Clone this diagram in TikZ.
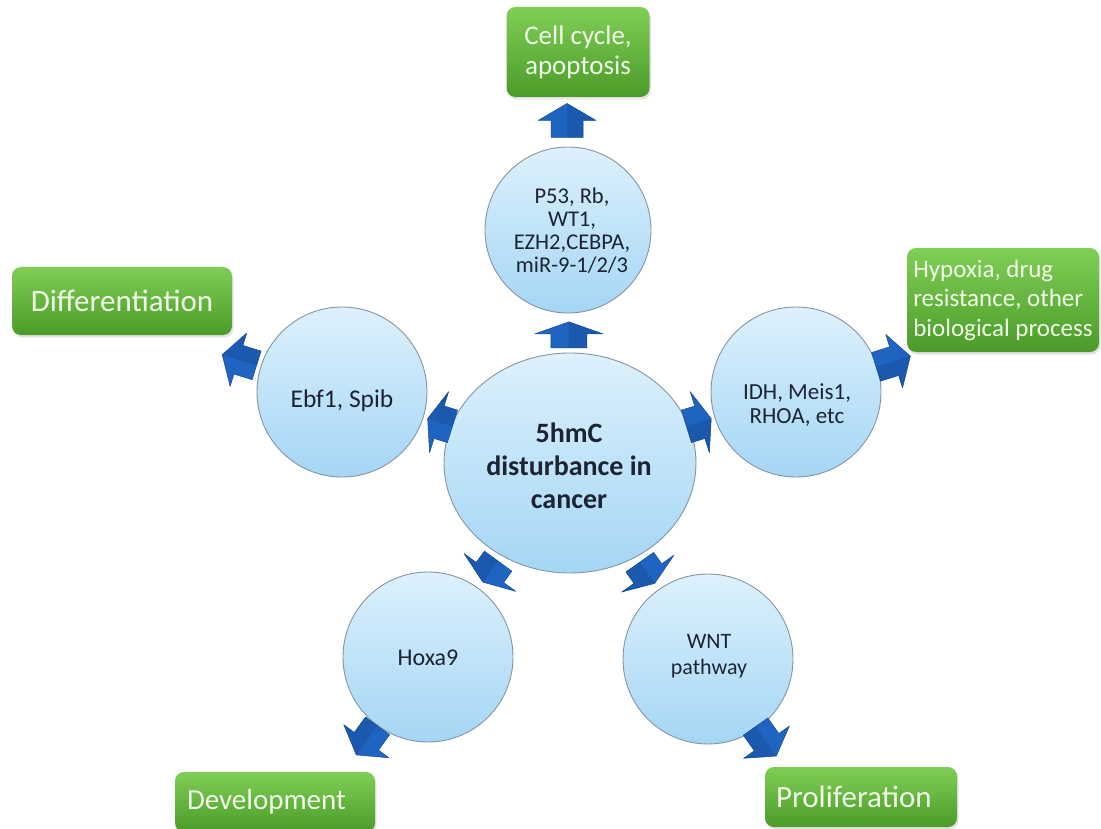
\documentclass[tikz,border=0pt]{standalone}
\usepackage{fontspec}
\setmainfont{Carlito}
\usetikzlibrary{shapes.geometric,shadows,calc}
\definecolor{cirtop}{HTML}{DDF1FC}
\definecolor{cirbot}{HTML}{A4D6F5}
\definecolor{cirline}{HTML}{8494A3}
\definecolor{arrblue}{HTML}{1F64C0}
\definecolor{arrdark}{HTML}{164C96}
\definecolor{grtop}{HTML}{80CE56}
\definecolor{grbot}{HTML}{4B9B2A}
\definecolor{grtext}{HTML}{F0FBE8}
\definecolor{txt}{HTML}{1C2433}
\begin{document}
\begin{tikzpicture}[x=1pt,y=-1pt,
  bubble/.style={circle, draw=cirline, line width=0.9pt, top color=cirtop, bottom color=cirbot,
    minimum size=#1, inner sep=0pt, align=center, text=txt},
  core/.style={ellipse, draw=cirline, line width=0.9pt, top color=cirtop, bottom color=cirbot,
    minimum width=252pt, minimum height=220pt, inner sep=0pt, align=center, text=txt},
  gbox/.style={rounded corners=9pt, top color=grtop, bottom color=grbot, text=grtext,
    align=center, inner sep=0pt,
    drop shadow={opacity=0.22, shadow xshift=1.5pt, shadow yshift=-2.5pt}},
  btext/.style={text=txt, align=center, inner sep=0pt},
  pics/barr/.style n args={4}{code={
    \path[fill=arrblue, draw=arrdark, line width=0.5pt, line join=round]
      (-#1/2,-#4) -- (#1/2-#2,-#4) -- (#1/2-#2,-#3) -- (#1/2,0) -- (#1/2-#2,#3)
      -- (#1/2-#2,#4) -- (-#1/2,#4) -- cycle;
    \path[fill=arrdark, fill opacity=0.45]
      (-#1/2,0) -- (#1/2,0) -- (#1/2-#2,#3) -- (#1/2-#2,#4) -- (-#1/2,#4) -- cycle;
  }}
]
\useasboundingbox (0,0) rectangle (1101,829);

% central node
\node[core] (cen) at (570,463) {};
\node[btext, font=\fontsize{28}{33}\selectfont\bfseries] (cenlab) at (569,466)
  {5hmC\\disturbance in\\cancer};

% satellite circles
\node[bubble=166pt] (T) at (568,230) {};
\node[btext, font=\fontsize{22.5}{23}\selectfont] (Tlab) at (572,231)
  {P53, Rb,\\WT1,\\EZH2,CEBPA,\\miR-9-1/2/3};
\node[bubble=170pt] (L) at (342,392) {};
\node[btext, font=\fontsize{25.5}{28}\selectfont] (Llab) at (342,401) {Ebf1, Spib};
\node[bubble=170pt] (R) at (796,392) {};
\node[btext, font=\fontsize{23}{24.5}\selectfont] (Rlab) at (797,405) {IDH, Meis1,\\RHOA, etc};
\node[bubble=170pt] (BL) at (428,657) {};
\node[btext, font=\fontsize{24}{28}\selectfont] (BLlab) at (428,658) {Hoxa9};
\node[bubble=170pt] (BR) at (708,659) {};
\node[btext, font=\fontsize{22}{26}\selectfont] (BRlab) at (709,656) {WNT\\pathway};

% outcome boxes
\node[gbox, minimum width=143pt, minimum height=90pt,
  font=\fontsize{27}{30}\selectfont] (B1) at (578,52) {Cell cycle,\\apoptosis};
\node[gbox, minimum width=220pt, minimum height=68pt,
  font=\fontsize{31}{35}\selectfont] (B2) at (122,301) {Differentiation};
\node[gbox, minimum width=192pt, minimum height=104pt, align=left,
  font=\fontsize{25}{29.5}\selectfont] (B3) at (1003,300)
  {Hypoxia, drug\\resistance, other\\biological process};
\node[gbox, minimum width=200pt, minimum height=60pt, text width=176pt, align=left,
  font=\fontsize{29}{33}\selectfont] (B4) at (275,802) {Development};
\node[gbox, minimum width=192pt, minimum height=60pt, text width=170pt, align=left,
  font=\fontsize{31}{35}\selectfont] (B5) at (861,797) {Proliferation};

% arrow positions along the radial lines
\coordinate (iT) at ($(cen.center)!.55!(T.center)$);
\coordinate (oT) at ($(cen.center)!1.47!(T.center)$);
\coordinate (iL) at ($(cen.center)!.57!(L.center)$);
\coordinate (oL) at ($(cen.center)!1.45!(L.center)$);
\coordinate (iR) at ($(cen.center)!.57!(R.center)$);
\coordinate (oR) at ($(cen.center)!1.43!(R.center)$);
\coordinate (iBL) at ($(cen.center)!.56!(BL.center)$);
\coordinate (oBL) at ($(cen.center)!1.43!(BL.center)$);
\coordinate (iBR) at ($(cen.center)!.56!(BR.center)$);
\coordinate (oBR) at ($(cen.center)!1.42!(BR.center)$);

\pic[rotate=90] at (iT) {barr={26}{12}{34}{18}};
\pic[rotate=90] at (oT) {barr={34}{17}{29}{16}};
\pic[rotate=162.7] at (iL) {barr={26}{12}{32}{17}};
\pic[rotate=162.7] at (oL) {barr={36}{17}{28}{15}};
\pic[rotate=17.4] at (iR) {barr={26}{12}{32}{17}};
\pic[rotate=17.4] at (oR) {barr={36}{17}{28}{15}};
\pic[rotate=233.8] at (iBL) {barr={26}{12}{32}{17}};
\pic[rotate=233.8] at (oBL) {barr={36}{17}{28}{15}};
\pic[rotate=305.2] at (iBR) {barr={26}{12}{32}{17}};
\pic[rotate=305.2] at (oBR) {barr={36}{17}{28}{15}};
\end{tikzpicture}
\end{document}
